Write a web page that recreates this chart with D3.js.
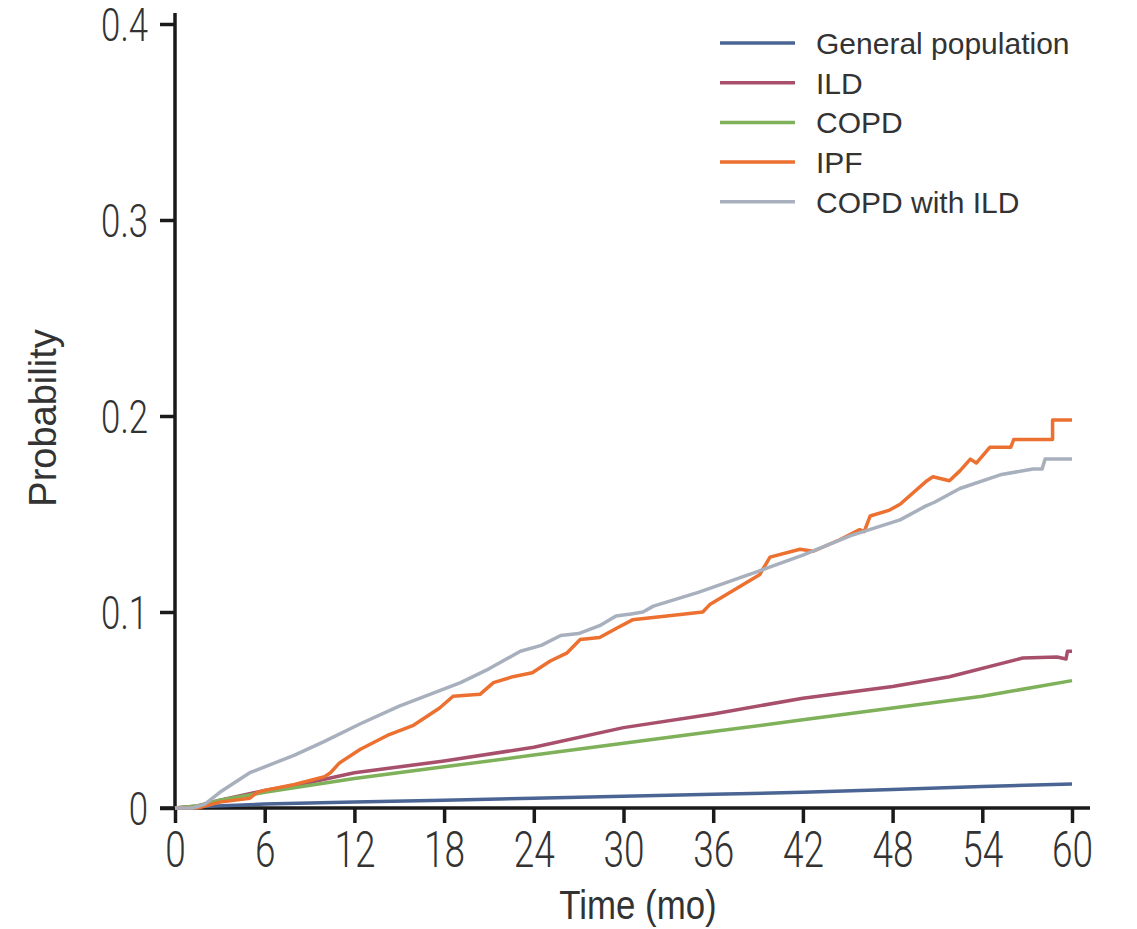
<!DOCTYPE html>
<html>
<head>
<meta charset="utf-8">
<script src="https://cdn.jsdelivr.net/npm/d3@7"></script>
<style>
  body { margin: 0; background: #fff; }
  svg { display: block; }
  .tick text { font-family: Roboto, "Liberation Sans", sans-serif; font-weight: 300; fill: #333; }
</style>
</head>
<body>
<div class="chart"></div>
<script>
// months on x, cumulative probability on y
let xTicks = [0, 6, 12, 18, 24, 30, 36, 42, 48, 54, 60];
let yTicks = [0, 0.1, 0.2, 0.3, 0.4];
let yTickLabels = ["0", "0.1", "0.2", "0.3", "0.4"];

let seriesNames = ["General population", "ILD", "COPD", "IPF", "COPD with ILD"];
let seriesColors = ["#4a6594", "#a8506b", "#7fb15a", "#ec7030", "#a9b0bd"];

let generalT = [0, 1, 6, 12, 18, 24, 30, 36, 42, 48, 54, 60];
let generalP = [0, 0.0005, 0.002, 0.003, 0.004, 0.005, 0.006, 0.007, 0.008, 0.0095, 0.011, 0.0122];

let ildT = [0, 1.5, 3, 6, 9, 12, 18, 24, 30, 36, 42, 48, 51.8, 56.7, 59, 59.6, 59.7, 60];
let ildP = [0, 0.001, 0.004, 0.009, 0.013, 0.018, 0.024, 0.031, 0.041, 0.048, 0.056, 0.062, 0.067, 0.0765, 0.077, 0.076, 0.080, 0.080];

let copdT = [0, 1.5, 3, 6, 12, 18, 24, 30, 36, 42, 48, 54, 60];
let copdP = [0, 0.001, 0.004, 0.008, 0.015, 0.021, 0.027, 0.033, 0.039, 0.045, 0.051, 0.057, 0.065];

let ipfT = [0, 1.5, 3, 5, 5.5, 6, 8, 10, 10.4, 11, 12.4, 14.2, 15.9, 17.7, 18.6, 20.4, 21.3, 22.6, 23.9, 25.1, 26.2, 27.1, 28.4, 29.6, 30.6, 32.9, 35.3, 35.8, 39.1, 39.8, 41.8, 42.7, 44.5, 45.8, 46.1, 46.5, 47.8, 48.5, 50.3, 50.7, 51.8, 52.5, 53.2, 53.6, 54.5, 55.9, 56.1, 58.7, 58.7, 60];
let ipfP = [0, 0, 0.003, 0.005, 0.008, 0.009, 0.012, 0.016, 0.018, 0.023, 0.030, 0.037, 0.042, 0.051, 0.057, 0.058, 0.064, 0.067, 0.069, 0.075, 0.079, 0.086, 0.087, 0.092, 0.096, 0.098, 0.100, 0.104, 0.119, 0.128, 0.132, 0.131, 0.137, 0.142, 0.141, 0.149, 0.152, 0.155, 0.167, 0.169, 0.167, 0.172, 0.178, 0.176, 0.184, 0.184, 0.188, 0.188, 0.198, 0.198];

let grayT = [0, 1.2, 2, 3, 4, 5, 6, 8, 10, 12.4, 15, 19.1, 21, 23.1, 24.5, 25.8, 27, 28.4, 29.5, 30.5, 31.3, 32, 35, 39.1, 42, 45.2, 48.5, 50.2, 50.8, 52.5, 55.2, 57.4, 58, 58.2, 60];
let grayP = [0, 0, 0.002, 0.008, 0.013, 0.018, 0.021, 0.027, 0.034, 0.043, 0.052, 0.064, 0.071, 0.080, 0.083, 0.088, 0.089, 0.093, 0.098, 0.099, 0.100, 0.103, 0.110, 0.121, 0.129, 0.139, 0.147, 0.154, 0.156, 0.163, 0.170, 0.173, 0.173, 0.178, 0.178];

let seriesT = [generalT, ildT, copdT, ipfT, grayT];
let seriesP = [generalP, ildP, copdP, ipfP, grayP];

let width = 1137, height = 929;
let squeeze = 0.74; // narrow look of the tick digits

let svg = d3.select(".chart").append("svg")
  .attr("width", width)
  .attr("height", height);

let x = d3.scaleLinear().domain([0, 60]).range([175, 1072]);
let y = d3.scaleLinear().domain([0, 0.4]).range([808, 24]);

// y axis
let yAxis = svg.append("g")
  .attr("transform", "translate(175,0)")
  .call(d3.axisLeft(y)
    .tickValues(yTicks)
    .tickFormat(function(d, i) { return yTickLabels[i]; })
    .tickSize(15)
    .tickSizeOuter(0));
yAxis.select(".domain").remove();
yAxis.selectAll(".tick line").attr("stroke", "#1a1a1a").attr("stroke-width", 3.5);
yAxis.selectAll(".tick text")
  .attr("font-size", 47)
  .attr("x", -27 / squeeze)
  .attr("dy", "0.36em")
  .attr("transform", "scale(" + squeeze + ",1)");

// x axis
let xAxis = svg.append("g")
  .attr("transform", "translate(0,808)")
  .call(d3.axisBottom(x)
    .tickValues(xTicks)
    .tickSize(15)
    .tickPadding(9)
    .tickSizeOuter(0));
xAxis.select(".domain").remove();
xAxis.selectAll(".tick line").attr("stroke", "#1a1a1a").attr("stroke-width", 3.5);
xAxis.selectAll(".tick text")
  .attr("font-size", 50)
  .attr("transform", "scale(" + squeeze + ",1)");

svg.append("line")
  .attr("x1", 175).attr("x2", 175)
  .attr("y1", 13).attr("y2", 809.5)
  .attr("stroke", "#1a1a1a").attr("stroke-width", 3.5);
svg.append("line")
  .attr("x1", 160).attr("x2", 1090)
  .attr("y1", 808).attr("y2", 808)
  .attr("stroke", "#1a1a1a").attr("stroke-width", 3.5);

// curves
let line = d3.line()
  .x(function(d) { return x(d[0]); })
  .y(function(d) { return y(d[1]); });

seriesNames.forEach(function(name, i) {
  let pts = seriesT[i].map(function(t, j) { return [t, seriesP[i][j]]; });
  svg.append("path")
    .datum(pts)
    .attr("fill", "none")
    .attr("stroke", seriesColors[i])
    .attr("stroke-width", 3.5)
    .attr("stroke-linejoin", "round")
    .attr("d", line);
});

// legend
let legend = svg.append("g").attr("class", "legend");
seriesNames.forEach(function(name, i) {
  let ly = 43 + i * 39.7;
  legend.append("line")
    .attr("x1", 720).attr("x2", 795)
    .attr("y1", ly).attr("y2", ly)
    .attr("stroke", seriesColors[i])
    .attr("stroke-width", 3.5);
  legend.append("text")
    .attr("x", 816)
    .attr("y", ly)
    .attr("dy", "0.36em")
    .attr("font-family", "Liberation Sans, sans-serif")
    .attr("font-size", 30)
    .attr("fill", "#333")
    .text(name);
});

// axis titles
svg.append("text")
  .attr("transform", "translate(638,919) scale(0.85,1)")
  .attr("text-anchor", "middle")
  .attr("font-family", "Liberation Sans, sans-serif")
  .attr("font-size", 41)
  .attr("fill", "#333")
  .text("Time (mo)");

svg.append("text")
  .attr("transform", "translate(56,418) rotate(-90)")
  .attr("text-anchor", "middle")
  .attr("font-family", "Liberation Sans, sans-serif")
  .attr("font-size", 38)
  .attr("fill", "#333")
  .text("Probability");
</script>
</body>
</html>
